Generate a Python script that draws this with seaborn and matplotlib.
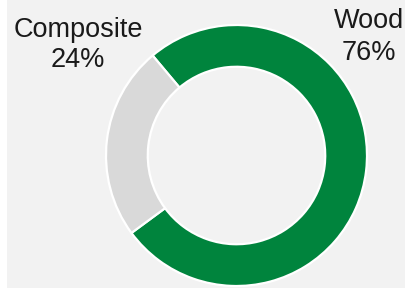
import matplotlib
matplotlib.use('Agg')
import matplotlib.pyplot as plt
import seaborn as sns
from matplotlib.patches import Rectangle

# Data
categories = ['Wood', 'Composite']
shares = [76, 24]
colors = ['#00843d', '#d9d9d9']

sns.set_theme(style='white')
plt.rcParams['font.family'] = ['Liberation Sans', 'DejaVu Sans']

W, H = 405, 288
fig = plt.figure(figsize=(W / 100, H / 100), dpi=100, facecolor='white')
# light grey panel, white strip on the left
fig.patches.append(Rectangle((7 / W, 0), 1 - 7 / W, 1, transform=fig.transFigure,
                             facecolor='#f2f2f2', edgecolor='none', zorder=-10))

# donut: centre (236.5, 155.5) px, outer radius 130.5 px
ax = fig.add_axes([106 / W, (288 - 286) / H, 261 / W, 261 / H])
ax.set_zorder(5)
ax.set_facecolor('none')
ax.pie(shares, colors=colors, startangle=130, counterclock=False, radius=1,
       wedgeprops=dict(width=0.32, edgecolor='white', linewidth=1.6))
ax.set_xlim(-1, 1)
ax.set_ylim(-1, 1)
ax.set_axis_off()

fs = 19.5
lbl = {'Wood': (369, 28, 60), 'Composite': (78, 37, 67)}
for name, val in zip(categories, shares):
    x, y1, y2 = lbl[name]
    fig.text(x / W, 1 - y1 / H, name, ha='center', va='baseline', fontsize=fs, color='#1a1a1a', zorder=10)
    fig.text(x / W, 1 - y2 / H, f'{val}%', ha='center', va='baseline', fontsize=fs, color='#1a1a1a', zorder=10)

fig.savefig('out.png', dpi=100, facecolor=fig.get_facecolor())
